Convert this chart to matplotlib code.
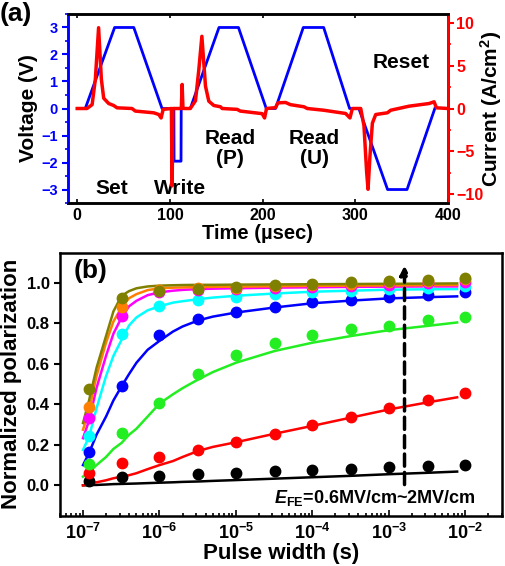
import matplotlib
matplotlib.use("Agg")
import matplotlib.pyplot as plt
import numpy as np

plt.rcParams['font.family'] = ['Liberation Sans', 'DejaVu Sans']
plt.rcParams['font.weight'] = 'bold'
plt.rcParams['axes.labelweight'] = 'bold'
plt.rcParams['mathtext.fontset'] = 'custom'
plt.rcParams['mathtext.rm'] = 'Liberation Sans:bold'
plt.rcParams['mathtext.bf'] = 'Liberation Sans:bold'
plt.rcParams['mathtext.it'] = 'Liberation Sans:bold:italic'

# ---- panel (a): pulse sequence ----
volt_t = [0, 8.6, 40.3, 61, 91.5, 104.3, 104.5, 112, 112.2, 122, 153, 174, 204, 214, 244, 266, 294, 304, 335, 356, 386]
volt_v = [0, 0, 3, 3, 0, 0, -1.95, -1.95, 0, 0, 3, 3, 0, 0, 3, 3, 0, 0, -3, -3, 0]

curr_t = [0, 10.5, 16, 19.5, 23, 26, 28.5, 33.9, 39.3, 42.9, 59, 62.7, 82.5, 88, 90.5, 92.7,
          101.6, 102.4, 103.2, 112.3, 113.2, 114.1, 122, 127.6, 131.2, 134.5, 138.4, 142,
          147.4, 154.6, 156.4, 172.6, 176, 199.6, 202.2, 204.3, 214, 216.6, 224.9, 230, 244.7,
          248.3, 266, 289.7, 294.4, 297, 306, 309.5, 312.4, 313.9, 316, 318.6, 322.2, 334.8,
          338.4, 358.2, 379.8, 385.2, 387.8, 400]
curr_i = [0, 0, 0.45, 3.4, 9.4, 3.4, 1.2, 0.58, 0.35, 0.08, 0.0, -0.3, -0.5, -0.7, -1.1, -0.1,
          0, -9.0, 0, 0, 2.8, 0, 0, 0.9, 4.5, 8.4, 2.6, 0.85,
          0.35, 0.2, 0, -0.1, -0.3, -0.6, -1.1, 0, 0.1, 0.66, 0.7, 0.45, 0.2,
          0, -0.2, -0.58, -1.1, 0, 0, -2.0, -7.4, -9.4, -5.5, -1.7, -0.7, -0.5,
          -0.2, 0.27, 0.58, 0.78, 0.08, 0]

# ---- panel (b): switching kinetics ----
pulse_w = [1.2e-7, 3.2e-7, 1e-6, 3.2e-6, 1e-5, 3.2e-5, 1e-4, 3.2e-4, 1e-3, 3.2e-3, 1e-2]
pol_black = [0.023, 0.041, 0.046, 0.055, 0.061, 0.073, 0.078, 0.083, 0.091, 0.098, 0.101]
pol_red = [0.06, 0.109, 0.139, 0.175, 0.215, 0.255, 0.296, 0.339, 0.381, 0.421, 0.454]
pol_green = [0.104, 0.257, 0.409, 0.551, 0.646, 0.704, 0.743, 0.773, 0.786, 0.816, 0.831]
pol_blue = [0.166, 0.493, 0.743, 0.821, 0.858, 0.882, 0.904, 0.917, 0.929, 0.942, 0.957]
pol_cyan = [0.242, 0.75, 0.884, 0.914, 0.932, 0.944, 0.954, 0.96, 0.97, 0.977, 0.983]
pol_magenta = [0.331, 0.838, 0.954, 0.965, 0.97, 0.975, 0.979, 0.983, 0.99, 1.0, 1.007]
pol_orange = [0.386, 0.879, 0.965, 0.974, 0.977, 0.983, 0.99, 0.997, 1.003, 1.01, 1.02]
pol_olive = [0.474, 0.924, 0.96, 0.97, 0.979, 0.99, 0.993, 1.003, 1.01, 1.017, 1.027]

# fitted curves
fit_t = [1e-7, 1.2e-7, 1.5e-7, 2e-7, 2.5e-7, 3.2e-7, 4e-7, 5e-7, 7e-7, 1e-6, 1.5e-6, 2e-6, 3.2e-6, 5e-6,
         1e-5, 3.2e-5, 1e-4, 3.2e-4, 1e-3, 3.2e-3, 7.8e-3]
fit_black = [0.0, 0.001, 0.002, 0.004, 0.006, 0.007, 0.008, 0.009, 0.011, 0.013, 0.015, 0.017, 0.019, 0.022,
             0.026, 0.033, 0.04, 0.047, 0.055, 0.062, 0.068]
fit_red = [0.0, 0.006, 0.015, 0.025, 0.035, 0.043, 0.05, 0.06, 0.08, 0.1, 0.12, 0.14, 0.17, 0.19,
           0.213, 0.255, 0.294, 0.335, 0.375, 0.41, 0.435]
fit_green = [0.043, 0.065, 0.1, 0.14, 0.18, 0.21, 0.25, 0.28, 0.34, 0.404, 0.45, 0.48, 0.523, 0.56,
             0.606, 0.664, 0.705, 0.738, 0.767, 0.788, 0.805]
fit_blue = [0.10, 0.16, 0.25, 0.34, 0.42, 0.49, 0.55, 0.606, 0.67, 0.714, 0.76, 0.785, 0.815, 0.834,
            0.854, 0.879, 0.9, 0.913, 0.924, 0.93, 0.934]
fit_cyan = [0.175, 0.24, 0.38, 0.54, 0.64, 0.72, 0.79, 0.83, 0.865, 0.885, 0.903, 0.91, 0.92, 0.928,
            0.937, 0.948, 0.957, 0.962, 0.967, 0.969, 0.97]
fit_magenta = [0.233, 0.32, 0.48, 0.64, 0.75, 0.83, 0.885, 0.912, 0.94, 0.954, 0.962, 0.966, 0.97, 0.972,
               0.974, 0.977, 0.979, 0.981, 0.982, 0.983, 0.983]
fit_orange = [0.275, 0.37, 0.54, 0.705, 0.81, 0.88, 0.925, 0.945, 0.965, 0.974, 0.977, 0.978, 0.98, 0.981,
              0.982, 0.984, 0.986, 0.987, 0.988, 0.989, 0.99]
fit_olive = [0.308, 0.42, 0.58, 0.738, 0.86, 0.937, 0.96, 0.974, 0.983, 0.987, 0.989, 0.99, 0.991, 0.991,
             0.992, 0.993, 0.994, 0.995, 0.996, 0.997, 0.998]

series = [(pol_black, fit_black, 'black'), (pol_red, fit_red, 'red'), (pol_green, fit_green, '#22ee22'),
          (pol_blue, fit_blue, 'blue'), (pol_cyan, fit_cyan, 'cyan'), (pol_magenta, fit_magenta, 'magenta'),
          (pol_orange, fit_orange, '#ff8000'), (pol_olive, fit_olive, '#808000')]

fig = plt.figure(figsize=(5.05, 5.66), dpi=100)

# Panel (a)
ax1 = fig.add_axes([0.1347, 0.6413, 0.752, 0.334])
ax1.plot(volt_t, volt_v, color='blue', lw=2.0, zorder=2)
ax1.set_xlim(-10, 400)
ax1.set_ylim(-3.5, 3.5)
ax1.set_yticks([-3, -2, -1, 0, 1, 2, 3])
ax1.set_yticks(np.arange(-3.5, 3.6, 0.5), minor=True)
ax1.set_xticks([0, 100, 200, 300, 400])
ax1.tick_params(axis='y', colors='blue', labelsize=10.5, width=1.5, length=4, direction='out')
ax1.tick_params(axis='y', which='minor', colors='blue', width=1.2, length=2.5)
ax1.tick_params(axis='x', labelsize=11.5, width=1.2, length=3, direction='in', top=True)
ax1.set_ylabel('Voltage (V)', fontsize=15, labelpad=2)
ax1.set_xlabel('Time (\u00b5sec)', fontsize=14.5, labelpad=1)
ax1.spines['left'].set_color('blue')
for s in ax1.spines.values():
    s.set_linewidth(1.8)

ax2 = ax1.twinx()
ax2.plot(curr_t, curr_i, color='red', lw=2.5)
ax2.set_ylim(-11, 11)
ax2.set_yticks([-10, -5, 0, 5, 10])
ax2.set_yticks(np.arange(-10, 10.1, 2.5), minor=True)
ax2.tick_params(axis='y', colors='red', labelsize=11.5, width=1.5, length=4, pad=2)
ax2.tick_params(axis='y', which='minor', colors='red', width=1.2, length=2.5)
ax2.set_ylabel('Current (A/cm$^\\mathbf{2}$)', fontsize=15)
ax2.yaxis.label.set_verticalalignment('center')
ax2.yaxis.label.set_horizontalalignment('center')
ax2.yaxis.set_label_coords(1.115, 0.5)
ax2.spines['right'].set_color('red')
ax2.spines['left'].set_color('blue')
for s in ax2.spines.values():
    s.set_linewidth(1.8)

ax1.text(37, -2.96, 'Set', fontsize=15, ha='center', va='center')
ax1.text(111, -2.96, 'Write', fontsize=15, ha='center', va='center')
ax1.text(165, -1.48, 'Read\n(P)', fontsize=15, ha='center', va='center', linespacing=1.1)
ax1.text(256, -1.48, 'Read\n(U)', fontsize=15, ha='center', va='center', linespacing=1.1)
ax1.text(350, 1.7, 'Reset', fontsize=15, ha='center', va='center')
fig.text(0.0, 0.975, '(a)', fontsize=19, ha='left', va='center')

# Panel (b)
ax3 = fig.add_axes([0.1188, 0.0889, 0.875, 0.4647])
for pol, fit, c in series:
    ax3.plot(fit_t, fit, color=c, lw=1.8, zorder=2)
for pol, fit, c in series:
    ax3.plot(pulse_w, pol, 'o', color=c, ms=7.5, zorder=3)
ax3.set_xscale('log')
ax3.set_xlim(5e-8, 3e-2)
ax3.set_ylim(-0.15, 1.15)
ax3.set_yticks([0.0, 0.2, 0.4, 0.6, 0.8, 1.0])
ax3.set_yticklabels(['0.0', '0.2', '0.4', '0.6', '0.8', '1.0'])
ax3.set_xticks([1e-7, 1e-6, 1e-5, 1e-4, 1e-3, 1e-2])
ax3.set_xticklabels(['10$^{\\mathbf{-7}}$', '10$^{\\mathbf{-6}}$', '10$^{\\mathbf{-5}}$',
                     '10$^{\\mathbf{-4}}$', '10$^{\\mathbf{-3}}$', '10$^{\\mathbf{-2}}$'])
ax3.tick_params(axis='x', which='both', direction='in', labelsize=13, width=1.2)
ax3.tick_params(axis='x', which='major', length=4, pad=5)
ax3.tick_params(axis='x', which='minor', length=2)
ax3.tick_params(axis='y', direction='out', labelsize=12, width=1.5, length=4)
ax3.set_xlabel('Pulse width (s)', fontsize=16, labelpad=0)
ax3.set_ylabel('Normalized polarization', fontsize=16, labelpad=3)
for s in ax3.spines.values():
    s.set_linewidth(1.8)

ax3.annotate('', xy=(1.6e-3, 1.1), xytext=(1.6e-3, -0.01),
             arrowprops=dict(arrowstyle='-|>', color='black', lw=2.5, linestyle=(0, (3.5, 1.8)),
                             mutation_scale=13))
ax3.text(0.713, 0.067, '$\\mathit{E}_{\\mathbf{FE}}$=0.6MV/cm~2MV/cm', transform=ax3.transAxes,
         fontsize=13, ha='center', va='center')
ax3.text(0.03, 0.93, '(b)', transform=ax3.transAxes, fontsize=19, ha='left', va='center')

fig.savefig('out.png', dpi=100)
